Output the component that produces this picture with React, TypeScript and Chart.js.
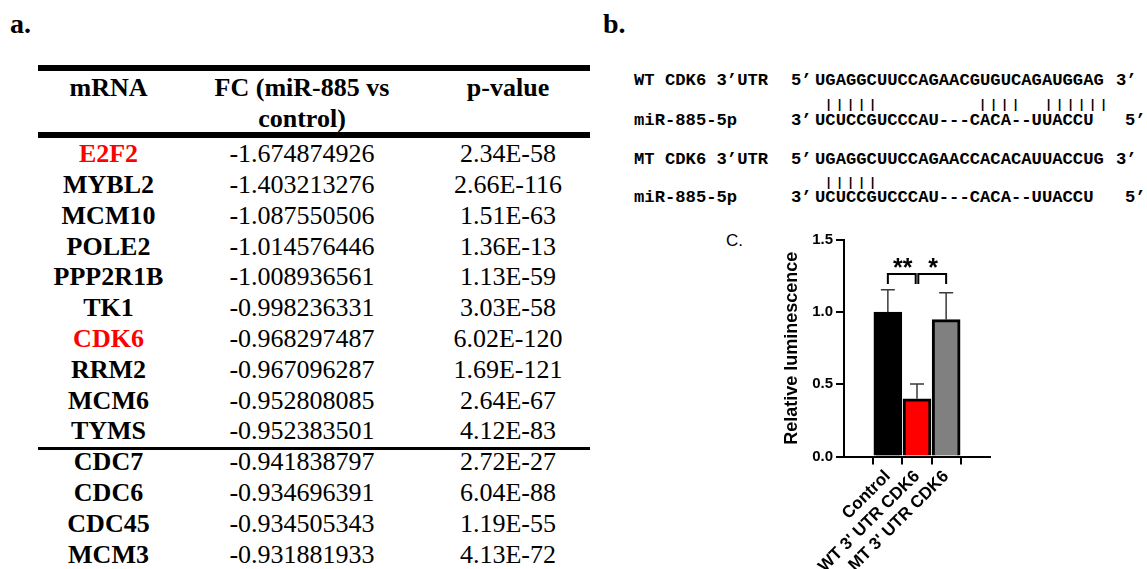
import React, { useEffect, useRef } from 'react';
import { Chart, registerables } from 'chart.js';

Chart.register(...registerables);

// ---------- Panel a: table data ----------
const tableHeaders = ['mRNA', 'FC (miR-885 vs', 'control)', 'p-value'];
const genes = ['E2F2', 'MYBL2', 'MCM10', 'POLE2', 'PPP2R1B', 'TK1', 'CDK6', 'RRM2', 'MCM6', 'TYMS', 'CDC7', 'CDC6', 'CDC45', 'MCM3'];
const foldChanges = ['-1.674874926', '-1.403213276', '-1.087550506', '-1.014576446', '-1.008936561', '-0.998236331', '-0.968297487', '-0.967096287', '-0.952808085', '-0.952383501', '-0.941838797', '-0.934696391', '-0.934505343', '-0.931881933'];
const pValues = ['2.34E-58', '2.66E-116', '1.51E-63', '1.36E-13', '1.13E-59', '3.03E-58', '6.02E-120', '1.69E-121', '2.64E-67', '4.12E-83', '2.72E-27', '6.04E-88', '1.19E-55', '4.13E-72'];
const highlightedGenes = ['E2F2', 'CDK6'];
const groupBreakAfter = 'TYMS';

// ---------- Panel b: sequence alignment ----------
const seqLabels = ['WT CDK6 3\u2019UTR', 'miR-885-5p', 'MT CDK6 3\u2019UTR', 'miR-885-5p'];
const seqStartEnds = ['5\u2019', '3\u2019', '5\u2019', '3\u2019'];
const seqBodies = ['UGAGGCUUCCAGAACGUGUCAGAUGGAG', 'UCUCCGUCCCAU---CACA--UUACCU', 'UGAGGCUUCCAGAACCACACAUUACCUG', 'UCUCCGUCCCAU---CACA--UUACCU'];
const seqTailEnds = ['3\u2019', '5\u2019', '3\u2019', '5\u2019'];
const pairingLines = [' |||||         ||||  ||||||', ' |||||'];

// ---------- Panel c: bar chart ----------
const categories = ['Control', "WT 3' UTR CDK6", "MT 3' UTR CDK6"];
const means = [1.0, 0.4, 0.948];
const errors = [0.156, 0.103, 0.187];
const barColors = ['#000000', '#ff0000', '#808080'];
const yTicks = [0, 0.5, 1.0, 1.5];
const comparisons: [number, number, string][] = [[0, 1, '**'], [1, 2, '*']];
const bracketTop = 1.265;
const bracketLeg = 0.07;

const SERIF = "'Liberation Serif', Tinos, 'Times New Roman', Times, 'DejaVu Serif', serif";
const MONO = "'Liberation Mono', Cousine, 'Courier New', 'DejaVu Sans Mono', monospace";
const SANS = "'Liberation Sans', Arimo, Arial, sans-serif";

function BText(props: {
  x: number; baseline: number; size: number; family: string; asc: number; desc: number;
  weight?: string | number; color?: string; align?: 'left' | 'center'; width?: number; children: any; letterSpacing?: number;
}) {
  const { x, baseline, size, family, asc, desc, weight, color, align, width, children, letterSpacing } = props;
  const top = baseline - ((asc - desc) / 2) * size;
  const style: any = {
    position: 'absolute',
    top,
    left: align === 'center' ? x - (width || 300) / 2 : x,
    width: align === 'center' ? width || 300 : undefined,
    textAlign: align === 'center' ? 'center' : 'left',
    lineHeight: '0px',
    fontFamily: family,
    fontSize: size,
    fontWeight: weight ?? 'normal',
    color: color ?? '#000',
    whiteSpace: 'pre',
    letterSpacing: letterSpacing,
  };
  return <div style={style}>{children}</div>;
}

const serifText = (x: number, b: number, s: number, bold: boolean, txt: string, color = '#000', center = true) => (
  <BText x={x} baseline={b} size={s} family={SERIF} asc={0.891} desc={0.216} weight={bold ? 'bold' : 'normal'} color={color} align={center ? 'center' : 'left'}>
    {txt}
  </BText>
);

const errorBarPlugin = {
  id: 'errorBarsAndBrackets',
  afterDatasetsDraw(chart: any) {
    const { ctx, scales } = chart;
    const xs = scales.x;
    const ys = scales.y;
    ctx.save();
    ctx.strokeStyle = '#3a3a3a';
    ctx.lineWidth = 1.5;
    means.forEach((m, i) => {
      const x = xs.getPixelForValue(i);
      const yb = ys.getPixelForValue(m);
      const yt = ys.getPixelForValue(m + errors[i]);
      ctx.beginPath();
      ctx.moveTo(x, yb);
      ctx.lineTo(x, yt);
      ctx.moveTo(x - 7, yt);
      ctx.lineTo(x + 7, yt);
      ctx.stroke();
    });
    ctx.strokeStyle = '#000';
    ctx.lineWidth = 2;
    ctx.fillStyle = '#000';
    ctx.font = `bold 25px ${SANS}`;
    ctx.textAlign = 'center';
    ctx.textBaseline = 'alphabetic';
    comparisons.forEach(([a, b, label], k) => {
      const gap = 0.045;
      const fa = k === 0 ? a : a + gap;
      const fb = k === comparisons.length - 1 ? b : b - gap;
      const x1 = xs.getPixelForValue(fa);
      const x2 = xs.getPixelForValue(fb);
      const yt = ys.getPixelForValue(bracketTop);
      const yl = ys.getPixelForValue(bracketTop - bracketLeg);
      ctx.beginPath();
      ctx.moveTo(x1, yl);
      ctx.lineTo(x1, yt);
      ctx.lineTo(x2, yt);
      ctx.lineTo(x2, yl);
      ctx.stroke();
      ctx.fillText(label, (x1 + x2) / 2 + 1, yt + 2);
    });
    ctx.restore();
  },
};

function BarChart() {
  const ref = useRef<HTMLCanvasElement | null>(null);
  useEffect(() => {
    if (!ref.current) return;
    const chart = new Chart(ref.current, {
      type: 'bar',
      data: {
        datasets: [
          {
            data: categories.map((_, i) => ({ x: i, y: means[i] })),
            backgroundColor: barColors,
            borderColor: '#000',
            borderWidth: 3,
            barThickness: 28,
            borderSkipped: 'bottom',
          } as any,
        ],
      },
      options: {
        animation: false,
        responsive: false,
        layout: { padding: { top: 15, right: 10, left: 0, bottom: 0 } },
        plugins: { legend: { display: false }, tooltip: { enabled: false } },
        scales: {
          x: {
            type: 'linear',
            min: -0.67,
            max: 2.67,
            afterBuildTicks: (s: any) => {
              s.ticks = categories.map((_, i) => ({ value: i }));
            },
            afterFit: (s: any) => {
              s.height = 112.5;
            },
            ticks: {
              autoSkip: false,
              minRotation: 45,
              maxRotation: 45,
              padding: 2,
              color: '#000',
              font: { family: SANS, size: 17, weight: 'bold' },
              callback: (v: any) => categories[Math.round(Number(v))] ?? '',
            },
            grid: { drawOnChartArea: false, drawTicks: true, tickLength: 8, color: '#000', lineWidth: 2 },
            border: { display: true, color: '#000', width: 2 },
          },
          y: {
            min: 0,
            max: 1.5,
            afterBuildTicks: (s: any) => {
              s.ticks = yTicks.map((v) => ({ value: v }));
            },
            afterFit: (s: any) => {
              s.width = 84;
            },
            ticks: {
              color: '#000',
              padding: 3,
              font: { family: SANS, size: 15, weight: 'bold' },
              callback: (v: any) => Number(v).toFixed(1),
            },
            grid: { drawOnChartArea: false, drawTicks: true, tickLength: 8, color: '#000', lineWidth: 2 },
            border: { display: true, color: '#000', width: 2 },
            title: {
              display: true,
              text: 'Relative luminescence',
              color: '#000',
              font: { family: SANS, size: 18, weight: 'bold' },
              padding: { top: 21, bottom: 0 },
            },
          },
        },
      } as any,
      plugins: [errorBarPlugin],
    });
    return () => chart.destroy();
  }, []);
  return (
    <canvas
      ref={ref}
      width={240}
      height={344}
      style={{ position: 'absolute', left: 760, top: 225, width: 240, height: 344 }}
    />
  );
}

export default function App() {
  const colGene = 108.5;
  const colFC = 302;
  const colP = 508;
  const rowBase0 = 163;
  const rowStep = 30.8;
  const fs = 26;
  const breakIdx = genes.indexOf(groupBreakAfter);

  const seqBaselines = [86, 126, 165, 203];
  const pairBaselines = [108, 186];
  const MS = 17.2;

  return (
    <div style={{ position: 'absolute', left: 0, top: 0, width: 1147, height: 569, background: '#fff', overflow: 'hidden' }}>
      {serifText(10, 33, 28, true, 'a.', '#000', false)}
      {serifText(603, 33, 28, true, 'b.', '#000', false)}
      <BText x={726} baseline={247} size={17} family={SANS} asc={0.905} desc={0.212}>C.</BText>

      <div style={{ position: 'absolute', left: 38, top: 65, width: 552, height: 6, background: '#000' }} />
      <div style={{ position: 'absolute', left: 38, top: 132, width: 552, height: 6, background: '#000' }} />
      <div
        style={{
          position: 'absolute',
          left: 38,
          top: Math.round(rowBase0 + rowStep * breakIdx + 7),
          width: 552,
          height: 3,
          background: '#000',
        }}
      />

      {serifText(colGene, 96.5, fs, true, tableHeaders[0])}
      {serifText(colFC, 96.5, fs, true, tableHeaders[1])}
      {serifText(colFC, 127.5, fs, true, tableHeaders[2])}
      {serifText(colP, 96.5, fs, true, tableHeaders[3])}

      {genes.map((g, i) => {
        const b = rowBase0 + rowStep * i;
        return (
          <React.Fragment key={g}>
            {serifText(colGene, b, fs, true, g, highlightedGenes.includes(g) ? '#ff0000' : '#000')}
            {serifText(colFC, b, fs, false, foldChanges[i])}
            {serifText(colP, b, fs, false, pValues[i])}
          </React.Fragment>
        );
      })}

      {seqLabels.map((lab, i) => (
        <React.Fragment key={'s' + i}>
          <BText x={634} baseline={seqBaselines[i]} size={MS} family={MONO} asc={0.833} desc={0.3} weight="bold">{lab}</BText>
          <BText x={791} baseline={seqBaselines[i]} size={MS} family={MONO} asc={0.833} desc={0.3} weight="bold">{seqStartEnds[i]}</BText>
          <BText x={815} baseline={seqBaselines[i]} size={MS} family={MONO} asc={0.833} desc={0.3} weight="bold">{seqBodies[i]}</BText>
          <BText x={i % 2 === 0 ? 1116 : 1125} baseline={seqBaselines[i]} size={MS} family={MONO} asc={0.833} desc={0.3} weight="bold">{seqTailEnds[i]}</BText>
        </React.Fragment>
      ))}
      {pairingLines.map((p, i) => (
        <BText key={'p' + i} x={814} baseline={pairBaselines[i]} size={12} family={MONO} asc={0.833} desc={0.3} weight="bold" letterSpacing={3.8}>
          {p}
        </BText>
      ))}

      <BarChart />
    </div>
  );
}
